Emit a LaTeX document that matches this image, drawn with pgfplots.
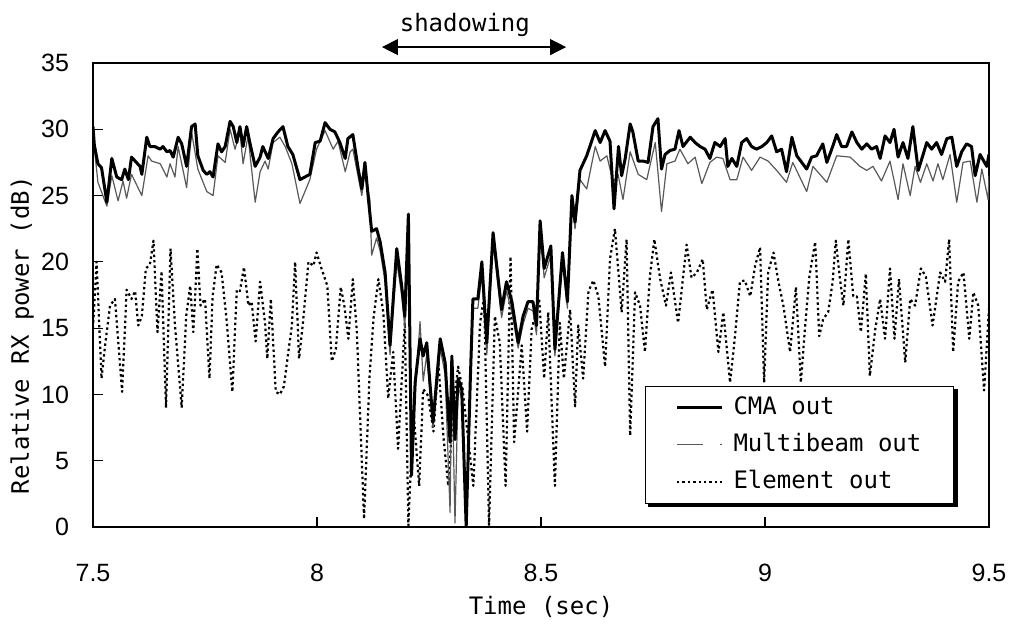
\documentclass[border=0pt]{standalone}
\usepackage{fontspec}
\setmainfont{DejaVu Sans Mono}
\newfontfamily\tickfont{Liberation Sans}
\usepackage{pgfplots}
\pgfplotsset{compat=1.18}
\usetikzlibrary{arrows.meta}

\begin{document}
\begin{tikzpicture}
\path[use as bounding box] (-46.5pt,-49.5pt) rectangle (463.5pt,263.5pt);
\begin{axis}[
  at={(0pt,0pt)}, anchor=south west,
  scale only axis, width=448pt, height=232pt,
  xmin=7.5, xmax=9.5, ymin=0, ymax=35,
  xtick={7.5,8,8.5,9,9.5}, ytick={0,5,...,35},
  tick pos=left, tick align=inside, major tick length=5pt,
  axis line style={line width=0.6pt},
  major tick style={black, line width=0.6pt},
  /pgf/number format/assume math mode=true,
  tick label style={font=\fontsize{12.5}{14}\selectfont\tickfont},
  xticklabel style={yshift=-15pt},
  yticklabel style={xshift=-8.5pt},
  xlabel={Time (sec)}, ylabel={Relative RX power (dB)},
  label style={font=\fontsize{12}{14}\selectfont},
  x label style={at={(axis description cs:0.5,-0.172)}, anchor=center},
  y label style={at={(axis description cs:-0.079,0.413)}, anchor=center},
  clip mode=individual,
  legend image code/.code={\draw[#1] (0pt,0pt) -- (22.5pt,0pt);},
  legend cell align=left,
  legend style={name=leg, at={(0.616,0.050)}, anchor=south west, draw=black,
    line width=0.6pt, fill=white, font=\fontsize{12}{14}\selectfont,
    inner xsep=15pt, inner ysep=4pt, row sep=5pt, column sep=4pt,
    nodes={inner sep=1pt, text height=9pt, text depth=2.5pt}},
]

% Element out
\addplot[forget plot, black, line width=1.1pt, dash pattern=on 1.2pt off 1.5pt, line join=round]
table {
7.500 15.0
7.508 20.0
7.519 11.2
7.527 13.7
7.538 16.7
7.549 17.2
7.565 10.2
7.575 17.9
7.586 17.2
7.594 17.8
7.601 15.2
7.609 15.9
7.618 19.5
7.627 19.8
7.635 21.6
7.644 14.7
7.653 19.3
7.663 9.0
7.673 21.0
7.683 15.2
7.698 9.0
7.708 15.9
7.717 18.2
7.724 14.7
7.733 21.0
7.740 16.7
7.750 17.2
7.760 11.2
7.767 17.4
7.776 19.8
7.787 19.2
7.798 15.7
7.811 10.2
7.821 17.9
7.828 17.8
7.837 19.6
7.847 16.7
7.854 17.0
7.863 14.0
7.873 18.5
7.884 15.4
7.889 12.7
7.897 17.2
7.908 10.2
7.917 10.0
7.926 10.6
7.936 13.2
7.944 15.2
7.951 20.0
7.960 12.7
7.968 15.2
7.981 20.0
7.992 19.7
7.999 20.7
8.010 19.5
8.023 18.2
8.033 12.5
8.042 13.4
8.053 18.1
8.061 16.7
8.070 14.2
8.080 18.7
8.089 14.7
8.105 0.6
8.117 11.2
8.126 15.7
8.137 18.7
8.148 16.2
8.159 9.7
8.170 13.2
8.181 5.9
8.196 15.4
8.204 0.1
8.215 8.9
8.228 3.1
8.237 10.4
8.248 9.9
8.260 7.2
8.271 12.4
8.282 6.9
8.293 3.1
8.304 8.9
8.315 12.1
8.325 10.4
8.349 3.1
8.364 15.4
8.373 17.4
8.384 0.1
8.397 15.9
8.408 13.9
8.421 3.1
8.432 20.4
8.440 6.4
8.457 13.7
8.469 7.2
8.479 14.9
8.496 17.2
8.507 11.2
8.516 16.2
8.531 3.1
8.542 15.4
8.551 11.2
8.565 16.4
8.576 9.1
8.583 15.2
8.594 11.2
8.606 17.8
8.617 18.6
8.628 17.4
8.643 12.1
8.654 20.2
8.665 22.5
8.680 16.2
8.691 21.7
8.699 6.9
8.710 17.7
8.721 16.7
8.732 13.2
8.743 18.9
8.753 21.7
8.766 18.7
8.779 16.7
8.790 19.2
8.806 15.4
8.816 18.5
8.825 21.3
8.836 18.8
8.848 19.2
8.861 20.2
8.870 16.4
8.883 17.9
8.896 13.2
8.907 16.2
8.922 10.9
8.933 14.4
8.944 18.5
8.955 18.6
8.967 17.4
8.978 19.7
8.989 21.1
8.998 10.9
9.007 19.2
9.019 20.7
9.030 18.5
9.041 16.7
9.056 13.2
9.069 18.1
9.080 10.9
9.089 14.9
9.099 18.9
9.112 21.5
9.121 14.4
9.130 15.7
9.141 16.2
9.151 18.5
9.158 21.6
9.167 18.8
9.175 16.7
9.186 21.7
9.197 17.4
9.205 17.4
9.214 14.7
9.225 19.1
9.234 11.4
9.246 14.9
9.257 17.2
9.268 14.2
9.279 19.5
9.289 14.2
9.299 18.7
9.313 12.4
9.324 17.2
9.335 16.7
9.348 19.5
9.359 18.9
9.374 15.2
9.391 19.2
9.402 18.5
9.411 21.7
9.420 13.2
9.431 18.5
9.443 19.2
9.456 14.2
9.465 17.7
9.476 16.7
9.489 10.3
9.500 16.5
};

% Multibeam out
\addplot[forget plot, black!65, line width=0.6pt, line join=round]
table {
7.500 29.4
7.506 27.6
7.511 26.0
7.531 24.2
7.542 26.5
7.556 24.6
7.567 26.1
7.575 24.8
7.586 26.6
7.609 25.0
7.623 28.0
7.631 27.6
7.650 27.4
7.665 26.4
7.672 27.4
7.683 26.4
7.690 28.7
7.709 25.6
7.720 29.8
7.734 27.0
7.754 25.3
7.768 25.0
7.779 28.0
7.795 27.5
7.806 30.0
7.817 28.5
7.828 29.8
7.835 27.4
7.846 29.5
7.862 24.5
7.873 26.8
7.884 27.6
7.891 27.0
7.902 29.0
7.917 29.4
7.929 28.7
7.944 27.4
7.962 24.4
7.984 26.2
7.999 28.5
8.018 29.9
8.036 28.5
8.047 29.1
8.063 26.8
8.074 28.3
8.080 28.5
8.100 25.0
8.107 26.8
8.118 24.7
8.122 20.5
8.133 21.8
8.141 20.8
8.152 18.5
8.163 13.0
8.178 20.0
8.189 17.5
8.196 15.0
8.204 22.0
8.211 4.5
8.219 10.0
8.230 15.5
8.237 11.0
8.245 13.0
8.259 7.5
8.275 13.5
8.286 11.5
8.297 1.1
8.301 12.0
8.308 0.3
8.315 10.5
8.323 9.8
8.333 0.5
8.342 10.0
8.348 16.5
8.359 16.5
8.368 19.0
8.379 13.0
8.393 21.5
8.412 15.8
8.423 17.8
8.435 16.2
8.449 13.5
8.460 15.3
8.471 16.5
8.482 16.3
8.490 14.5
8.498 22.5
8.507 18.8
8.522 20.5
8.531 12.9
8.548 20.0
8.559 16.5
8.569 24.2
8.576 22.5
8.587 26.2
8.602 25.5
8.621 28.7
8.632 27.6
8.647 28.0
8.661 26.0
8.672 26.6
8.683 24.7
8.699 28.3
8.717 26.6
8.736 26.2
8.755 29.0
8.769 23.8
8.781 27.4
8.799 27.6
8.810 28.5
8.828 27.4
8.844 27.9
8.859 25.9
8.877 27.5
8.892 27.9
8.906 27.8
8.922 26.2
8.937 26.2
8.951 27.9
8.970 26.9
8.989 27.9
9.007 27.6
9.026 26.9
9.048 26.0
9.062 27.5
9.093 25.3
9.107 27.2
9.138 26.0
9.160 28.0
9.190 27.9
9.212 27.2
9.227 26.9
9.241 27.2
9.260 26.1
9.279 27.6
9.297 24.7
9.308 27.4
9.324 25.0
9.335 27.2
9.347 26.0
9.361 27.4
9.375 26.1
9.386 27.4
9.397 26.2
9.413 28.1
9.428 24.5
9.442 27.5
9.458 27.6
9.473 24.5
9.484 27.0
9.498 24.7
9.500 26.5
};

% CMA out
\addplot[forget plot, black, line width=1.5pt, line join=round]
table {
7.500 30.2
7.503 28.8
7.511 27.4
7.519 27.1
7.531 24.5
7.542 27.8
7.553 26.4
7.564 26.2
7.571 27.0
7.579 26.2
7.586 27.9
7.605 27.2
7.609 26.6
7.620 29.4
7.627 28.7
7.638 28.7
7.650 28.5
7.656 28.7
7.665 28.3
7.672 28.4
7.679 27.9
7.690 29.4
7.698 28.9
7.709 27.2
7.720 30.2
7.728 30.4
7.734 28.0
7.746 26.9
7.754 26.6
7.761 26.8
7.768 26.4
7.779 28.9
7.787 28.3
7.795 28.7
7.806 30.6
7.813 30.2
7.821 29.0
7.828 30.2
7.835 28.7
7.843 30.2
7.850 29.0
7.862 27.2
7.873 27.9
7.879 28.7
7.891 27.8
7.902 29.3
7.913 29.8
7.924 30.2
7.935 28.7
7.946 28.1
7.962 26.2
7.984 26.6
7.996 29.0
8.007 29.1
8.018 30.5
8.029 30.0
8.040 29.8
8.051 29.0
8.063 27.8
8.069 29.3
8.080 29.6
8.092 27.0
8.100 25.5
8.107 27.5
8.114 25.0
8.122 22.3
8.133 22.5
8.141 21.5
8.152 19.2
8.163 13.7
8.178 21.0
8.189 18.2
8.196 15.9
8.204 23.6
8.211 3.9
8.219 10.9
8.230 14.2
8.237 12.9
8.245 13.9
8.259 7.9
8.275 14.2
8.286 12.4
8.297 6.4
8.301 12.9
8.308 6.6
8.315 11.2
8.323 10.4
8.333 0.0
8.342 10.9
8.348 17.2
8.359 17.2
8.368 20.0
8.379 13.9
8.393 22.2
8.412 16.4
8.423 18.5
8.435 17.0
8.449 13.9
8.460 15.9
8.471 17.0
8.482 17.0
8.490 15.2
8.498 23.1
8.507 19.5
8.522 21.2
8.531 13.4
8.548 20.7
8.559 17.0
8.569 25.0
8.576 23.0
8.587 26.9
8.602 28.0
8.621 29.9
8.632 29.0
8.643 29.9
8.654 29.1
8.663 24.0
8.673 28.7
8.680 26.5
8.688 27.8
8.699 30.4
8.705 29.8
8.717 27.6
8.728 27.6
8.739 27.5
8.750 30.2
8.761 30.8
8.769 27.0
8.777 28.1
8.788 28.4
8.799 28.5
8.808 29.9
8.817 28.7
8.833 29.4
8.844 29.0
8.855 28.7
8.866 28.5
8.877 27.8
8.888 29.0
8.900 28.7
8.911 29.3
8.917 27.2
8.926 27.8
8.937 27.2
8.948 29.0
8.959 29.3
8.970 28.7
8.981 28.5
8.993 28.7
9.004 29.0
9.015 29.5
9.026 28.3
9.037 28.5
9.048 26.8
9.060 29.4
9.071 28.0
9.082 27.5
9.093 27.0
9.104 27.9
9.115 28.0
9.129 28.9
9.138 27.5
9.149 28.5
9.160 29.6
9.171 28.7
9.182 28.7
9.194 29.8
9.205 29.0
9.216 28.5
9.227 28.9
9.238 28.5
9.249 28.7
9.257 27.8
9.268 29.5
9.279 29.0
9.288 30.0
9.297 27.9
9.308 29.0
9.319 27.8
9.330 30.2
9.342 26.9
9.353 28.1
9.361 29.0
9.372 28.5
9.383 29.0
9.394 28.1
9.406 29.3
9.417 29.4
9.428 27.2
9.439 28.3
9.450 28.9
9.461 28.7
9.469 26.5
9.480 28.1
9.495 27.2
9.500 28.1
};

\addlegendimage{black, line width=1.5pt}
\addlegendimage{black!65, line width=0.6pt, dash pattern=on 13pt off 8.5pt on 0.8pt off 3pt}
\addlegendimage{black, line width=1.1pt, dash pattern=on 1.2pt off 1.5pt}
\legend{CMA out, Multibeam out, Element out}

\draw[line width=0.6pt, {Triangle[length=8pt,width=8pt]}-{Triangle[length=8pt,width=8pt]}]
  (axis cs:8.145,36.2) -- (axis cs:8.556,36.2);
\node[font=\fontsize{12}{14}\selectfont, anchor=base] at (axis cs:8.330,37.4) {shadowing};
\end{axis}
% shadow of the legend box, drawn beside it (right and bottom strips)
\fill[black] ([xshift=1.6pt,yshift=-1.8pt]leg.south west) rectangle ([xshift=1.8pt]leg.south east);
\fill[black] ([yshift=-1.8pt]leg.south east) rectangle ([xshift=1.8pt,yshift=-1.6pt]leg.north east);
\end{tikzpicture}
\end{document}
